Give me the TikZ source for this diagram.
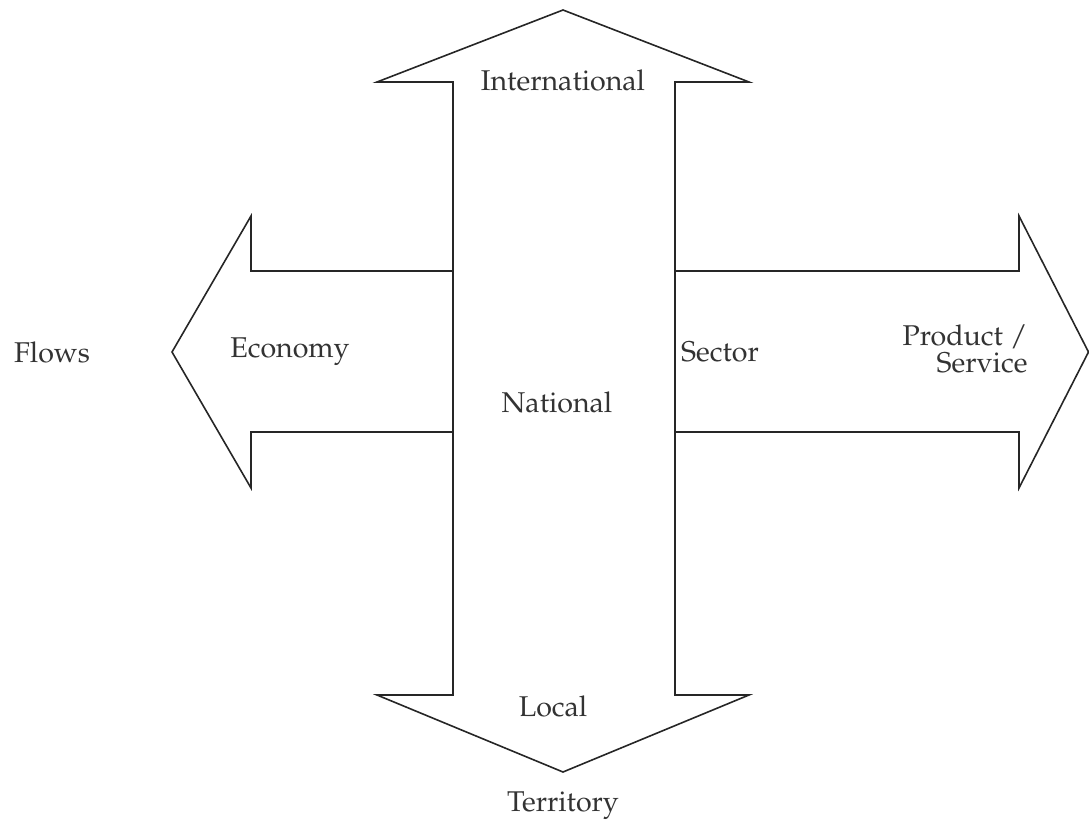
\documentclass[tikz,border=0pt]{standalone}
\usepackage[T1]{fontenc}
\usepackage{mathpazo}
\tikzset{
  outline/.style={draw=black!85, line width=0.8pt, line join=miter},
  lbl/.style={font=\fontsize{14.3}{13.5}\selectfont, text=black!80, inner sep=0pt}
}
\begin{document}
\begin{tikzpicture}[x=0.5pt,y=-0.5pt]
\useasboundingbox (0,0) rectangle (1089,820);
% vertical double arrow
\draw[outline] (563,10) -- (749,82) -- (675,82) -- (675,695) -- (749,695) -- (563,772)
  -- (377,695) -- (453,695) -- (453,82) -- (377,82) -- cycle;
% left arrow
\draw[outline] (453,271) -- (251,271) -- (251,216) -- (172,352) -- (251,488) -- (251,432) -- (453,432);
% right arrow
\draw[outline] (675,271) -- (1019,271) -- (1019,216) -- (1088.5,352) -- (1019,488) -- (1019,432) -- (675,432);
% labels
\node[lbl] (intl) at (563,80) {International};
\node[lbl] (flows) at (52,352) {Flows};
\node[lbl] (econ) at (290,352) {Economy};
\node[lbl] (sector) at (720,352) {Sector};
\node[lbl, align=right] (prod) at (965,349) {Product /\\Service};
\node[lbl] (natl) at (557,402) {National};
\node[lbl] (local) at (553,706) {Local};
\node[lbl] (terr) at (563,806) {Territory};
\end{tikzpicture}
\end{document}
